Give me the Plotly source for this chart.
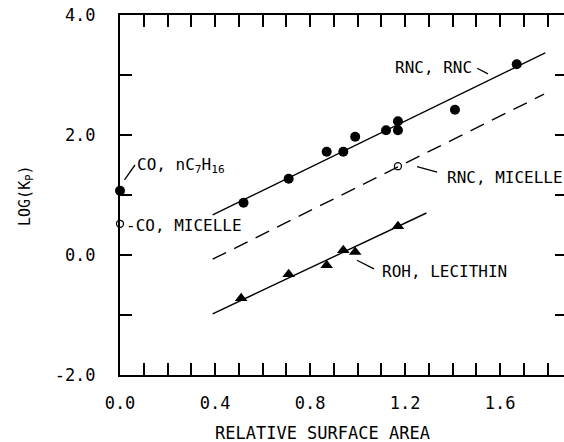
import plotly.graph_objects as go

# ---- data ----
rnc_x = [0.52, 0.71, 0.87, 0.94, 0.99, 1.12, 1.17, 1.17, 1.41, 1.67]
rnc_y = [0.87, 1.27, 1.72, 1.72, 1.97, 2.08, 2.23, 2.08, 2.42, 3.18]
co_hept_x = [0.0]
co_hept_y = [1.07]
co_mic_x = [0.0]
co_mic_y = [0.52]
rnc_mic_x = [1.17]
rnc_mic_y = [1.48]
roh_x = [0.51, 0.71, 0.87, 0.94, 0.99, 1.17]
roh_y = [-0.72, -0.32, -0.17, 0.08, 0.05, 0.48]

fit_rnc_x = [0.39, 1.79]
fit_rnc_y = [0.67, 3.37]
fit_mic_x = [0.39, 1.785]
fit_mic_y = [-0.07, 2.68]
fit_roh_x = [0.39, 1.29]
fit_roh_y = [-0.98, 0.70]

x_tickvals = [0.0, 0.4, 0.8, 1.2, 1.6]
x_ticktext = ["0.0", "0.4", "0.8", "1.2", "1.6"]
x_all_ticks = [0.0, 0.1, 0.2, 0.3, 0.4, 0.5, 0.6, 0.7, 0.8, 0.9, 1.0,
               1.1, 1.2, 1.3, 1.4, 1.5, 1.6, 1.7, 1.8]
y_tickvals = [-2.0, 0.0, 2.0, 4.0]
y_ticktext = ["-2.0", "0.0", "2.0", "4.0"]
y_all_ticks = [-1.0, 0.0, 1.0, 2.0, 3.0]

FONT = "DejaVu Sans Mono"
BLACK = "black"
CLEAR = "rgba(0,0,0,0)"
XR = [0, 1.869]
YR = [-2, 4]

fig = go.Figure()

# fitted lines (spread over the overlaid axes so each axis is drawn)
fig.add_trace(go.Scatter(x=fit_rnc_x, y=fit_rnc_y, mode="lines", xaxis="x2", yaxis="y",
                         line=dict(color=BLACK, width=1.4), hoverinfo="skip"))
fig.add_trace(go.Scatter(x=fit_mic_x, y=fit_mic_y, mode="lines", xaxis="x", yaxis="y2",
                         line=dict(color=BLACK, width=1.4, dash="15px,9px"), hoverinfo="skip"))
fig.add_trace(go.Scatter(x=fit_roh_x, y=fit_roh_y, mode="lines", xaxis="x", yaxis="y3",
                         line=dict(color=BLACK, width=1.4), hoverinfo="skip"))

# points
fig.add_trace(go.Scatter(x=rnc_x, y=rnc_y, mode="markers",
                         marker=dict(symbol="circle", size=10, color=BLACK)))
fig.add_trace(go.Scatter(x=co_hept_x, y=co_hept_y, mode="markers",
                         marker=dict(symbol="circle", size=10, color=BLACK), cliponaxis=False))
fig.add_trace(go.Scatter(x=co_mic_x, y=co_mic_y, mode="markers",
                         marker=dict(symbol="circle-open", size=7, color=BLACK,
                                     line=dict(width=1.3)), cliponaxis=False))
fig.add_trace(go.Scatter(x=rnc_mic_x, y=rnc_mic_y, mode="markers",
                         marker=dict(symbol="circle-open", size=7, color=BLACK,
                                     line=dict(width=1.3))))
fig.add_trace(go.Scatter(x=roh_x, y=roh_y, mode="markers",
                         marker=dict(symbol="triangle-up", size=11, color=BLACK)))

# labels
labels = [
    ("CO, nC<sub>7</sub>H<sub>16</sub>", 0.063, 1.50),
    ("-CO, MICELLE", 0.017, 0.50),
    ("RNC, RNC", 1.149, 3.13),
    ("RNC, MICELLE", 1.368, 1.30),
    ("ROH, LECITHIN", 1.095, -0.27),
]
for txt, lx, ly in labels:
    fig.add_annotation(x=lx, y=ly, xref="x", yref="y", text=txt, showarrow=False,
                       xanchor="left", yanchor="middle",
                       font=dict(family=FONT, size=16, color=BLACK))

leaders = [
    (0.013, 1.22, 0.063, 1.50),
    (1.495, 3.13, 1.549, 3.02),
    (1.242, 1.48, 1.335, 1.38),
    (0.989, -0.07, 1.069, -0.23),
]
for x0, y0, x1, y1 in leaders:
    fig.add_annotation(x=x1, y=y1, ax=x0, ay=y0, xref="x", yref="y", axref="x", ayref="y",
                       text=" ", showarrow=True, arrowhead=0, arrowwidth=1.3,
                       arrowcolor=BLACK, standoff=0, startstandoff=0,
                       font=dict(size=1))

# axis titles
fig.add_annotation(xref="paper", yref="paper", x=0.455, y=-0.161, text="RELATIVE SURFACE AREA",
                   showarrow=False, xanchor="center", yanchor="middle",
                   font=dict(family=FONT, size=17, color=BLACK))
fig.add_annotation(xref="paper", yref="paper", x=-0.214, y=0.5, text="LOG(K<sub>P</sub>)",
                   showarrow=False, textangle=-90, xanchor="center", yanchor="middle",
                   font=dict(family=FONT, size=15, color=BLACK))

plain = dict(showgrid=False, zeroline=False)
tickfont = dict(family=FONT, size=17, color=BLACK)

fig.update_layout(
    width=564, height=442,
    margin=dict(l=120, r=0, t=15, b=67),
    paper_bgcolor="white", plot_bgcolor="white",
    showlegend=False,
    font=dict(family=FONT, color=BLACK),
    # bottom line + mirrored top line, ticks every 0.1
    xaxis=dict(range=XR, **plain, showline=True, linecolor=BLACK, linewidth=1.6,
               mirror="ticks", ticks="inside", ticklen=12, tickwidth=1.5,
               tickcolor=BLACK, tickvals=x_all_ticks, showticklabels=False),
    # bottom labels, pushed down by invisible outside ticks
    xaxis2=dict(range=XR, overlaying="x", side="bottom", anchor="y", **plain,
                showline=False, ticks="outside", ticklen=13, tickcolor=CLEAR,
                tickvals=x_tickvals, ticktext=x_ticktext, tickfont=tickfont),
    # left line with ticks every 1.0
    yaxis=dict(range=YR, **plain, showline=True, linecolor=BLACK, linewidth=1.6,
               ticks="inside", ticklen=12, tickwidth=1.5, tickcolor=BLACK,
               tickvals=y_all_ticks, showticklabels=False),
    # left labels, pushed out by invisible outside ticks
    yaxis2=dict(range=YR, overlaying="y", side="left", anchor="x", **plain,
                showline=False, ticks="outside", ticklen=20, tickcolor=CLEAR,
                tickvals=y_tickvals, ticktext=y_ticktext, tickfont=tickfont),
    # right-hand ticks (no line; the frame runs off the picture)
    yaxis3=dict(range=YR, overlaying="y", side="right", anchor="x", **plain,
                showline=False, showticklabels=False, tickvals=y_all_ticks,
                ticks="inside", ticklen=9, tickwidth=1.5, tickcolor=BLACK),
)

fig.write_html("out.html")
